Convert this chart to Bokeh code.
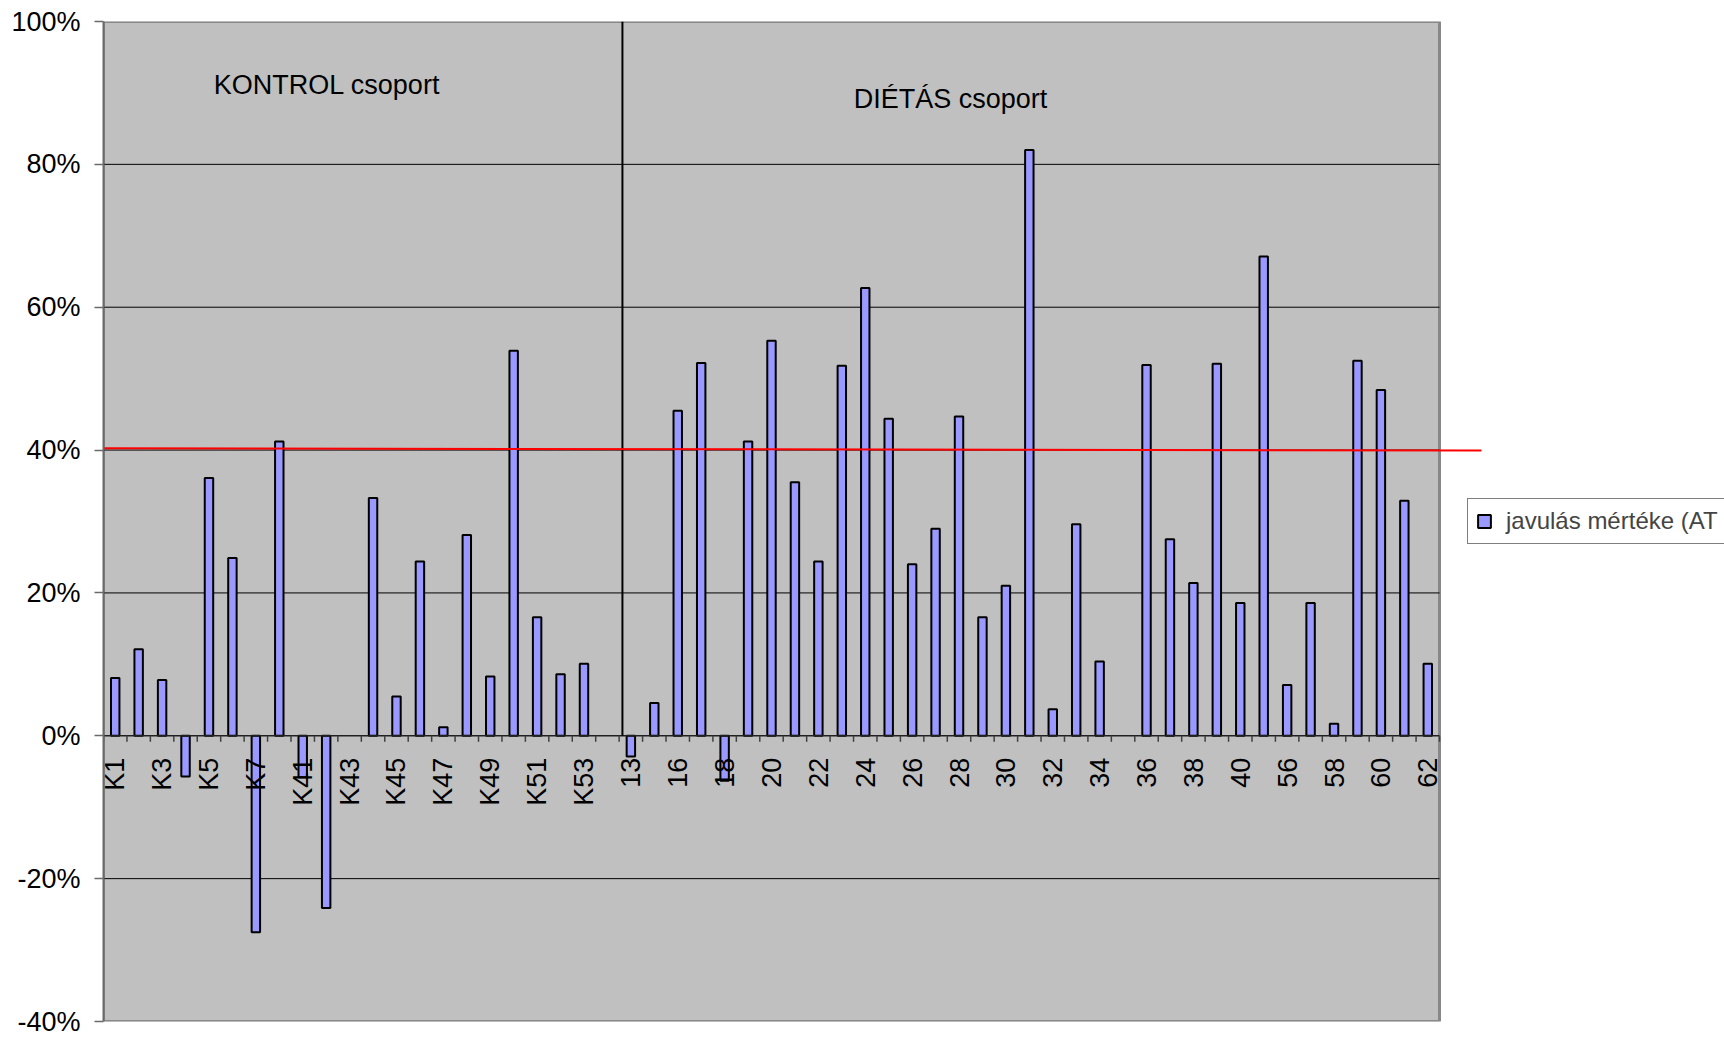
import numpy as np
from bokeh.plotting import figure
from bokeh.models import (Range1d, NumeralTickFormatter, FixedTicker, Legend,
                          LegendItem, Label)
from bokeh.embed import file_html
from bokeh.resources import INLINE
from bokeh.core.properties import value

# ---------------- data ----------------
categories = ["K1", "K2", "K3", "K4", "K5", "K6", "K7", "K8", "K41", "K42", "K43",
              "K44", "K45", "K46", "K47", "K48", "K49", "K50", "K51", "K52", "K53", "",
              "13", "15", "16", "17", "18", "19", "20", "21", "22", "23", "24", "25",
              "26", "27", "28", "29", "30", "31", "32", "33", "34", "35", "36", "37",
              "38", "39", "40", "41", "56", "57", "58", "59", "60", "61", "62"]
javulas = [0.081, 0.121, 0.078, -0.057, 0.361, 0.249, -0.275, 0.412, -0.058, -0.241, np.nan,
           0.333, 0.055, 0.244, 0.012, 0.281, 0.083, 0.539, 0.166, 0.086, 0.101, np.nan,
           -0.029, 0.046, 0.455, 0.522, -0.063, 0.412, 0.553, 0.355, 0.244, 0.518, 0.627, 0.444,
           0.240, 0.290, 0.447, 0.166, 0.210, 0.820, 0.037, 0.296, 0.104, np.nan, 0.519, 0.275,
           0.214, 0.521, 0.186, 0.671, 0.071, 0.186, 0.017, 0.525, 0.484, 0.329, 0.101]
y_ticks = [-0.4, -0.2, 0.0, 0.2, 0.4, 0.6, 0.8, 1.0]
grid_levels = [-0.2, 0.2, 0.4, 0.6, 0.8]
threshold_line = [0.4025, 0.3994]
series_name = "javulás mértéke (AT"
group_titles = ["KONTROL csoport", "DIÉTÁS csoport"]

FONT = "Liberation Sans"
n = len(categories)
x = np.arange(n)
px_per_unit = 1336 / n
W, H = 1724, 1037
LEFT, TOP, BOTTOM = 103, 21, 16
frame_w = W - LEFT

p = figure(width=W, height=H,
           x_range=Range1d(-0.5, -0.5 + frame_w / px_per_unit),
           y_range=Range1d(-0.4, 1.0),
           output_backend="svg", toolbar_location=None,
           x_axis_location=None,
           min_border_left=LEFT, min_border_right=0,
           min_border_top=TOP, min_border_bottom=BOTTOM)
p.grid.visible = False
p.outline_line_color = None
p.background_fill_color = "white"
p.border_fill_color = "white"

# y axis
ya = p.yaxis[0]
ya.ticker = FixedTicker(ticks=y_ticks)
ya.formatter = NumeralTickFormatter(format="0%")
ya.major_label_text_font = FONT
ya.major_label_text_font_size = "27px"
ya.major_label_text_color = "black"
ya.major_tick_out = 9
ya.major_tick_in = 0
ya.minor_tick_out = 0
ya.minor_tick_in = 0
ya.major_label_standoff = 14
ya.axis_line_color = "#6a6a6a"
ya.axis_line_width = 2
ya.major_tick_line_color = "#6a6a6a"
ya.major_tick_line_width = 1.5

# plot area background
p.quad(left=-0.5, right=n - 0.5, bottom=y_ticks[0], top=y_ticks[-1],
       fill_color="#C0C0C0", line_color="#888888", line_width=3)

# grid lines
p.segment(x0=[-0.5] * len(grid_levels), x1=[n - 0.5] * len(grid_levels),
          y0=grid_levels, y1=grid_levels, line_color="black", line_width=1)

# bars
bars = p.vbar(x=x, top=javulas, bottom=0, width=0.36,
              fill_color="#9999FF", line_color="black", line_width=2)

# category axis line at zero
p.segment(x0=[-0.5], x1=[n - 0.5], y0=[0], y1=[0], line_color="#202020", line_width=1.5)
p.ray(x=np.arange(n + 1) - 0.5, y=np.zeros(n + 1), length=6, length_units="screen",
      angle=-np.pi / 2, line_color="#404040", line_width=1.5)

# category labels (every second one)
p.text(x=x[::2], y=np.zeros(len(x[::2])), text=categories[::2], angle=np.pi / 2,
       text_align="right", text_baseline="middle", y_offset=22,
       text_font=value(FONT), text_font_size=value("27px"), text_color="black")

# group divider
p.segment(x0=[21.64], x1=[21.64], y0=[0], y1=[1.0], line_color="black", line_width=2)

# group titles
p.add_layout(Label(x=9.04, y=0.911, text=group_titles[0], text_align="center",
                   text_baseline="middle", text_font=FONT, text_font_size="27px",
                   text_color="black"))
p.add_layout(Label(x=35.64, y=0.891, text=group_titles[1], text_align="center",
                   text_baseline="middle", text_font=FONT, text_font_size="27px",
                   text_color="black"))

# red threshold line
p.segment(x0=[-0.5], x1=[58.29], y0=[threshold_line[0]], y1=[threshold_line[1]],
          line_color="#FF0000", line_width=2)

# legend
legend = Legend(items=[LegendItem(label=series_name, renderers=[bars])],
                location=(1364, 477), margin=0, padding=8, spacing=0,
                glyph_width=16, glyph_height=16, label_standoff=14,
                label_text_font=FONT, label_text_font_size="24px",
                border_line_color="black", border_line_width=1,
                background_fill_color="white", background_fill_alpha=1.0)
p.add_layout(legend)

open("out.html", "w").write(file_html(p, INLINE))
